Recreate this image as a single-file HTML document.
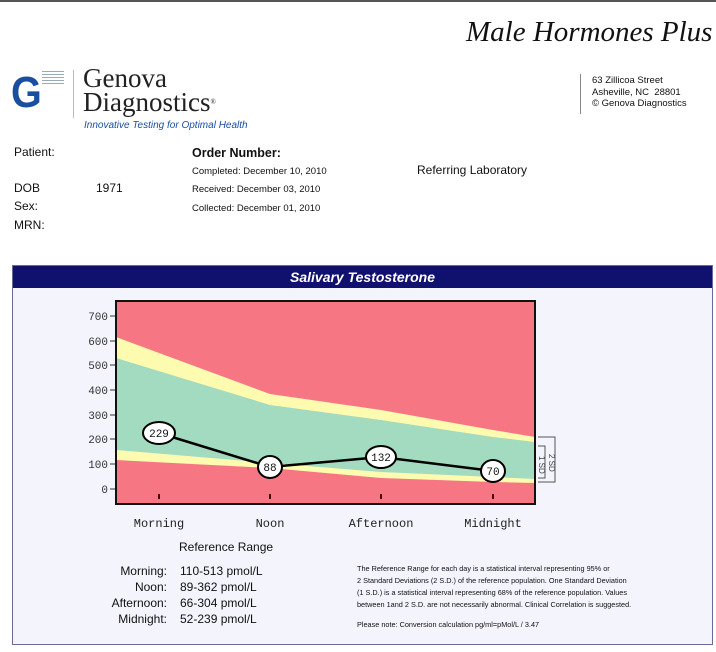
<!DOCTYPE html>
<html><head><meta charset="utf-8"><style>
body{margin:0;width:716px;height:652px;background:#fff;position:relative;overflow:hidden;font-family:"Liberation Sans",Arial,sans-serif;color:#111}
.a{position:absolute;white-space:nowrap}
</style></head><body>
<div class="a" style="left:0;top:0;width:716px;height:2px;background:#555"></div>
<div class="a" style="left:466px;top:16px;font-family:'Liberation Serif',serif;font-style:italic;font-size:29px;">Male Hormones Plus</div>
<!-- logo -->
<div class="a" style="left:11px;top:71px;font-family:'Liberation Sans';font-weight:bold;font-size:44px;color:#1a4fa0;line-height:44px;transform:scaleX(0.9);transform-origin:left">G</div>
<div class="a" style="left:42px;top:71px;width:22px;height:14px;background:repeating-linear-gradient(#9ab 0 1px,#fff 1px 3px)"></div>
<div class="a" style="left:73px;top:70px;width:1px;height:48px;background:#bbb"></div>
<div class="a" style="left:83px;top:66px;font-family:'Liberation Serif',serif;font-size:27px;line-height:24px;color:#222">Genova<br>Diagnostics<span style="font-size:7px;vertical-align:top">®</span></div>
<div class="a" style="left:84px;top:120px;font-size:10px;font-style:italic;color:#1a4fa0">Innovative Testing for Optimal Health</div>
<div class="a" style="left:580px;top:74px;width:1px;height:40px;background:#888"></div>
<div class="a" style="left:592px;top:75px;font-size:9.5px;line-height:11.5px">63 Zillicoa Street<br>Asheville, NC&nbsp; 28801<br>© Genova Diagnostics</div>
<div class="a" style="left:14px;top:145px;font-size:12px">Patient:</div>
<div class="a" style="left:14px;top:181px;font-size:12px">DOB</div>
<div class="a" style="left:96px;top:181px;font-size:12px">1971</div>
<div class="a" style="left:14px;top:199px;font-size:12px">Sex:</div>
<div class="a" style="left:14px;top:218px;font-size:12px">MRN:</div>
<div class="a" style="left:192px;top:146px;font-size:12.5px;font-weight:bold">Order Number:</div>
<div class="a" style="left:192px;top:166px;font-size:9.5px">Completed: December 10, 2010</div>
<div class="a" style="left:192px;top:184px;font-size:9.5px">Received: December 03, 2010</div>
<div class="a" style="left:192px;top:203px;font-size:9.5px">Collected: December 01, 2010</div>
<div class="a" style="left:417px;top:163px;font-size:12px">Referring Laboratory</div>
<!-- panel -->
<div class="a" style="left:12px;top:265px;width:699px;height:378px;border:1px solid #6a6a9a;background:#f4f4fd"></div>
<div class="a" style="left:13px;top:266px;width:699px;height:22px;background:#10106e;color:#fff;font-weight:bold;font-style:italic;font-size:14px;text-align:center;line-height:22px">Salivary Testosterone</div>
<svg class="a" style="left:0;top:0" width="716" height="652">
<rect x="116" y="301" width="419" height="203" fill="#f77684"/>
<polygon points="116,337 270,394 381,410 493,430 535,437 535,483 493,482 381,478 270,468 116,460" fill="#fdfbb0"/>
<polygon points="116,358 270,405 381,420 493,437 535,442 535,479 493,477 381,472 270,463 116,450" fill="#a3dbc0"/>
<rect x="116" y="301" width="419" height="203" fill="none" stroke="#111" stroke-width="2"/>
<g font-family="Liberation Mono,monospace" font-size="11" fill="#333" text-anchor="end">
<text x="108" y="320">700</text><text x="108" y="345">600</text><text x="108" y="369">500</text><text x="108" y="394">400</text><text x="108" y="419">300</text><text x="108" y="443">200</text><text x="108" y="468">100</text><text x="108" y="493">0</text></g>
<g stroke="#333"><line x1="110" x2="115" y1="316" y2="316"/><line x1="110" x2="115" y1="341" y2="341"/><line x1="110" x2="115" y1="365" y2="365"/><line x1="110" x2="115" y1="390" y2="390"/><line x1="110" x2="115" y1="415" y2="415"/><line x1="110" x2="115" y1="439" y2="439"/><line x1="110" x2="115" y1="464" y2="464"/><line x1="110" x2="115" y1="489" y2="489"/></g>
<g stroke="#400" stroke-width="2"><line x1="159" x2="159" y1="494" y2="499"/><line x1="270" x2="270" y1="494" y2="499"/><line x1="381" x2="381" y1="494" y2="499"/><line x1="493" x2="493" y1="494" y2="499"/></g>
<g font-family="Liberation Mono,monospace" font-size="12" fill="#222" text-anchor="middle">
<text x="159" y="527">Morning</text><text x="270" y="527">Noon</text><text x="381" y="527">Afternoon</text><text x="493" y="527">Midnight</text></g>
<polyline points="159,433 270,467 381,457 493,471" fill="none" stroke="#000" stroke-width="2.5"/>
<g fill="#fff" stroke="#000" stroke-width="2"><ellipse cx="159" cy="433" rx="16" ry="11"/><ellipse cx="270" cy="467" rx="12" ry="11"/><ellipse cx="381" cy="457" rx="15" ry="11"/><ellipse cx="493" cy="471" rx="12" ry="11"/></g>
<g font-family="Liberation Mono,monospace" font-size="11" text-anchor="middle" fill="#111"><text x="159" y="437">229</text><text x="270" y="471">88</text><text x="381" y="461">132</text><text x="493" y="475">70</text></g>
<g fill="none" stroke="#555"><polyline points="538,437 555,437 555,482 538,482"/><polyline points="538,446 545,446 545,478 538,478"/></g>
<g font-family="Liberation Sans" font-size="8" fill="#444"><text transform="translate(539,456) rotate(90)">1 SD</text><text transform="translate(549,454) rotate(90)">2 SD</text></g>
</svg>
<div class="a" style="left:179px;top:540px;font-size:12px">Reference Range</div>
<div class="a" style="left:100px;top:563px;width:67px;text-align:right;font-size:12px;line-height:16px">Morning:<br>Noon:<br>Afternoon:<br>Midnight:</div>
<div class="a" style="left:180px;top:563px;font-size:12px;line-height:16px">110-513 pmol/L<br>89-362 pmol/L<br>66-304 pmol/L<br>52-239 pmol/L</div>
<div class="a" style="left:357px;top:563px;font-size:7.3px;line-height:12px">The Reference Range for each day is a statistical interval representing 95% or<br>2 Standard Deviations (2 S.D.) of the reference population. One Standard Deviation<br>(1 S.D.) is a statistical interval representing 68% of the reference population. Values<br>between 1and 2 S.D. are not necessarily abnormal. Clinical Correlation is suggested.</div>
<div class="a" style="left:357px;top:620px;font-size:7.3px">Please note: Conversion calculation pg/ml=pMol/L / 3.47</div>
</body></html>
